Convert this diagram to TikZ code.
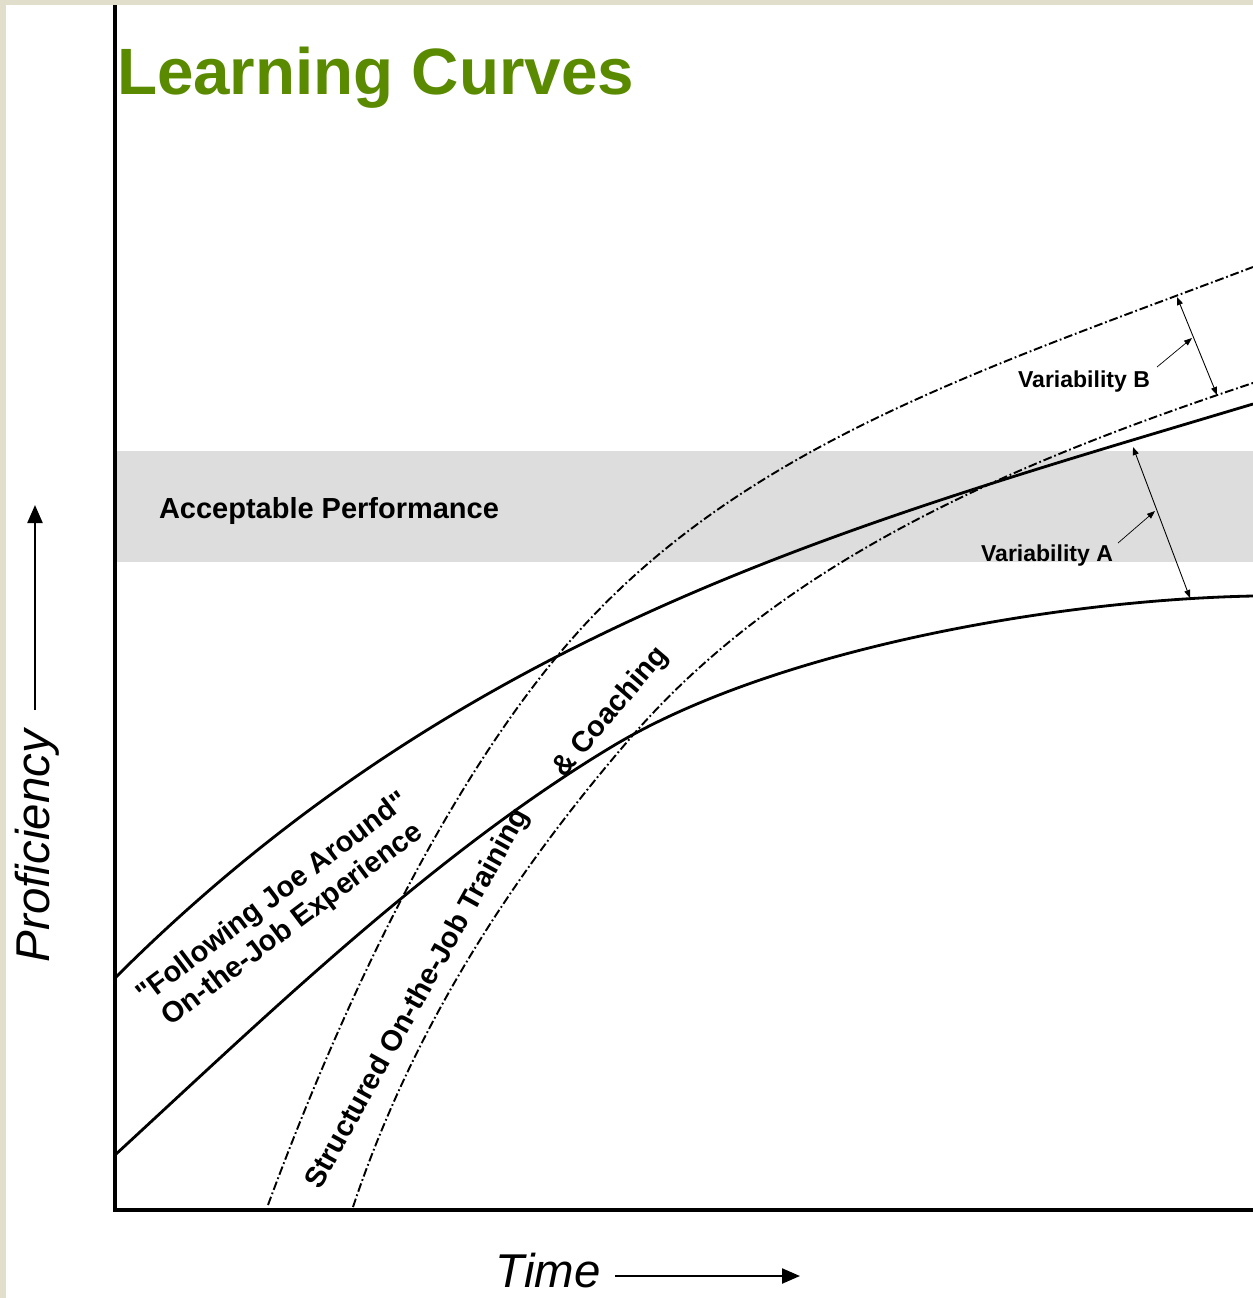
\documentclass[tikz,border=0pt]{standalone}
\usepackage{fontspec}
\setmainfont{Liberation Sans}
\usetikzlibrary{calc}
\usetikzlibrary{positioning}
\usetikzlibrary{arrows.meta}
\definecolor{titlegreen}{RGB}{90,138,0}
\definecolor{framebeige}{RGB}{225,223,203}
\definecolor{bandgray}{RGB}{221,221,221}

\begin{document}
\begin{tikzpicture}
[
x=0.02cm, y=-0.02cm,
% 文字の余白
every node/.style={inner sep=0, outer sep=0},
% 軸
axis/.style={line width=2.2pt},
% 軸の矢印
arrow/.style={-{Triangle[length=0.36cm, width=0.3cm]}, line width=1.3pt},
% 実線の曲線
curve/.style={line width=1.6pt},
% 一点鎖線の曲線
dcurve/.style={line width=1.1pt, dash pattern=on 5pt off 1.6pt on 1pt off 1.6pt},
% ばらつきの矢印
spread/.style={{Triangle[length=0.16cm, width=0.12cm]}-{Triangle[length=0.16cm, width=0.12cm]},
line width=0.5pt},
pointer/.style={-{Triangle[length=0.16cm, width=0.12cm]}, line width=0.4pt},
% 文字
title/.style={font=\bfseries\fontsize{37.3}{40}\selectfont, text=titlegreen},
axislabel/.style={font=\itshape\fontsize{27}{30}\selectfont},
curvelabel/.style={font=\bfseries\fontsize{16.5}{18.8}\selectfont, align=center},
varlabel/.style={font=\bfseries\fontsize{13.1}{15}\selectfont}
]
% 背景
\fill [framebeige] (0,0) rectangle (1253,1298);
\fill [white] (6,5) rectangle (1253,1298);
\useasboundingbox (0,0) rectangle (1253,1298);
\fill [bandgray] (117,451) rectangle (1253,562);

% 軸
\coordinate (top) at (115,5);
\coordinate (origin) at (115,1210);
\coordinate (end) at (1253,1210);
\draw [axis] (top) -- (origin) -- (end);

% 文字の配置
\node [title, anchor=base west] (title) at (117,94) {Learning Curves};
\node [curvelabel, anchor=base] (accept) at (329,518) {Acceptable Performance};
\node [axislabel, rotate=90, anchor=base] (prof) at (50,846) {Proficiency};
\node [axislabel, anchor=base] (time) at (548,1287) {Time};
\node [varlabel, anchor=base] (varA) at (1047,561) {Variability A};
\node [varlabel, anchor=base] (varB) at (1084,387) {Variability B};
\node [curvelabel, rotate=37] (joe) at (283,912)
{\textquotedbl Following Joe Around\textquotedbl\\On-the-Job Experience};
\node [curvelabel, rotate=61] (sojt) at (418,999) {Structured On-the-Job Training};
\node [curvelabel, rotate=49.5] (coach) at (611,712) {\& Coaching};

% 軸の矢印
\coordinate (p0) at (35,710);
\coordinate (p1) at (35,505);
\draw [arrow] (p0) -- (p1);
\coordinate (t0) at (615,1276);
\coordinate (t1) at (800,1276);
\draw [arrow] (t0) -- (t1);

% 曲線
\draw [curve] (115,978) .. controls (465,628) and (853,524) .. (1253,404);
\draw [curve] (115,1155) .. controls (265,1017) and (433,854) .. (613,746)
.. controls (773,650) and (1053,600) .. (1253,596);
\draw [dcurve] (268,1205) .. controls (358,962) and (459,774) .. (559,654)
.. controls (729,450) and (973,373) .. (1253,267);
\draw [dcurve] (353,1207) .. controls (423,997) and (543,839) .. (633,735)
.. controls (783,563) and (1003,466) .. (1253,383);

% ばらつき
\coordinate (A1) at (1133,447);
\coordinate (A2) at (1190,598);
\draw [spread] (A1) -- (A2);
\coordinate (A3) at (1118,543);
\coordinate (A4) at (1155,511);
\draw [pointer] (A3) -- (A4);
\coordinate (B1) at (1177,297);
\coordinate (B2) at (1217,395);
\draw [spread] (B1) -- (B2);
\coordinate (B3) at (1157,367);
\coordinate (B4) at (1192,338);
\draw [pointer] (B3) -- (B4);
\end{tikzpicture}
\end{document}
